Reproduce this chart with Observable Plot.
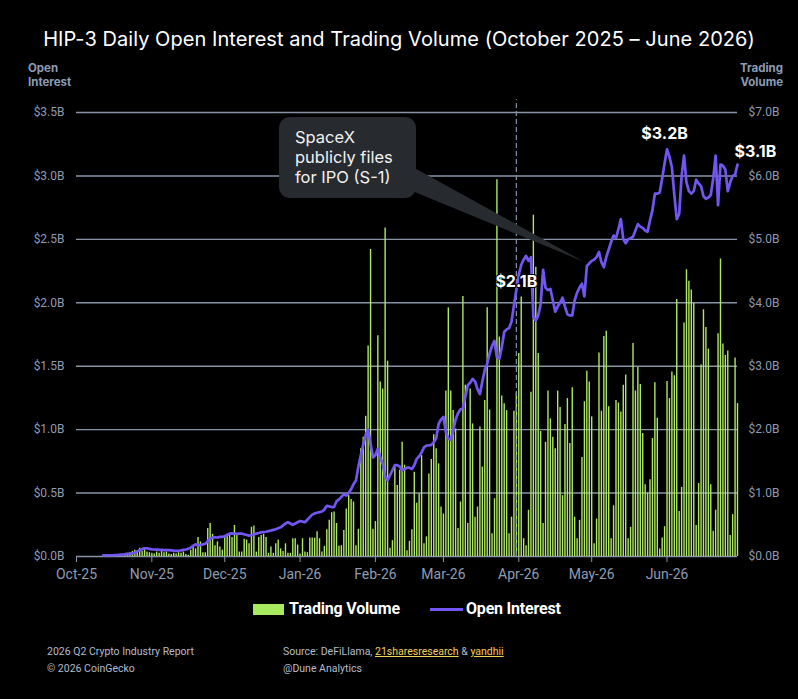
<!DOCTYPE html>
<html><head><meta charset="utf-8">
<script src="https://cdn.jsdelivr.net/npm/d3@7"></script>
<script src="https://cdn.jsdelivr.net/npm/@observablehq/plot@0.6"></script>
<style>
html,body{margin:0;padding:0;background:#000;}
body{width:798px;height:699px;overflow:hidden;position:relative;font-family:Roboto,sans-serif;}
.abs{position:absolute;white-space:nowrap;}
#title{left:0;width:798px;top:25px;text-align:center;color:#fff;font:400 20px Inter,sans-serif;line-height:28px;letter-spacing:0.05px;}
.axt{color:#8d9cb5;font:700 11.5px Inter,sans-serif;line-height:14px;}
#chart{position:absolute;left:0;top:55px;}
#overlay{position:absolute;left:0;top:0;}
#callout{left:279px;top:117px;width:137px;height:81px;border-radius:11px;background:#272a2e;color:#f2f2f2;font:400 16.5px Inter,sans-serif;line-height:20px;box-sizing:border-box;padding:10px 0 0 16px;}
.leg{color:#fff;font:700 16px Roboto,sans-serif;letter-spacing:-0.2px;}
.foot{color:#b4bccb;font:400 10.5px Roboto,sans-serif;}
.lnk{color:#f2d15a;text-decoration:underline;}
</style></head><body>
<div id="title" class="abs">HIP-3 Daily Open Interest and Trading Volume (October 2025 – June 2026)</div>
<div class="abs axt" style="left:28px;top:61px;">Open<br>Interest</div>
<div class="abs axt" style="right:15px;top:61px;text-align:right;">Trading<br>Volume</div>
<div id="chart"></div>
<svg id="overlay" width="798" height="699"></svg>
<div id="callout" class="abs">SpaceX<br>publicly files<br>for IPO (S-1)</div>
<div class="abs" style="left:253px;top:604px;width:31px;height:11px;background:#a8ea5f;"></div>
<div class="abs leg" style="left:289px;top:599px;">Trading Volume</div>
<div class="abs" style="left:430px;top:608px;width:33px;height:3px;background:#7356f2;"></div>
<div class="abs leg" style="left:466px;top:599px;">Open Interest</div>
<div class="abs foot" style="left:47px;top:645px;">2026 Q2 Crypto Industry Report</div>
<div class="abs foot" style="left:47px;top:662px;">© 2026 CoinGecko</div>
<div class="abs foot" style="left:283px;top:645px;">Source: DeFiLlama, <span class="lnk">21sharesresearch</span> &amp; <span class="lnk">yandhii</span></div>
<div class="abs foot" style="left:283px;top:662px;">@Dune Analytics</div>
<script>
// Daily series start date (Oct 12, 2025), values in billions USD
const startDate = "2025-10-12";
const openInterest = [
0.01,0.01,0.01,0.01,0.01,0.012,0.012,0.015,0.015,0.018,
0.02,0.02,0.025,0.03,0.04,0.05,0.058,0.065,0.065,0.06,
0.055,0.055,0.054,0.052,0.052,0.05,0.05,0.05,0.048,0.046,
0.045,0.045,0.048,0.052,0.055,0.06,0.07,0.085,0.095,0.092,
0.09,0.095,0.10,0.12,0.14,0.15,0.152,0.15,0.155,0.155,
0.16,0.17,0.18,0.182,0.18,0.178,0.18,0.18,0.175,0.17,
0.165,0.168,0.175,0.18,0.185,0.19,0.193,0.195,0.20,0.205,
0.21,0.215,0.222,0.23,0.245,0.26,0.27,0.26,0.25,0.26,
0.27,0.28,0.275,0.27,0.29,0.31,0.33,0.34,0.345,0.35,
0.355,0.37,0.40,0.395,0.39,0.39,0.435,0.45,0.47,0.49,
0.48,0.50,0.53,0.57,0.60,0.71,0.80,0.88,0.96,1.00,
0.89,0.78,0.80,0.85,0.78,0.73,0.63,0.60,0.64,0.68,
0.72,0.72,0.71,0.68,0.69,0.70,0.70,0.69,0.72,0.77,
0.79,0.82,0.86,0.875,0.875,0.88,0.90,0.93,1.045,1.08,
1.10,0.98,0.93,0.92,0.99,1.08,1.13,1.16,1.17,1.26,
1.35,1.37,1.40,1.38,1.32,1.28,1.38,1.47,1.52,1.60,
1.66,1.70,1.57,1.56,1.65,1.77,1.79,1.80,1.85,1.98,
2.10,2.22,2.30,2.34,2.37,2.33,2.36,1.89,1.86,1.90,
1.99,2.26,2.12,2.10,2.11,2.02,1.93,1.97,2.00,2.04,
1.97,1.91,1.90,1.90,2.02,2.08,2.12,2.15,2.05,2.29,
2.31,2.33,2.34,2.36,2.40,2.32,2.28,2.36,2.42,2.48,
2.53,2.51,2.58,2.66,2.50,2.47,2.50,2.51,2.52,2.57,
2.62,2.60,2.59,2.57,2.56,2.65,2.73,2.86,2.86,2.87,
2.98,3.10,3.21,3.15,3.07,2.85,2.66,2.70,3.00,3.16,
2.95,2.88,2.86,2.88,2.97,2.94,2.92,2.84,2.82,2.83,
2.85,2.98,3.16,2.77,3.09,3.08,3.05,2.88,2.95,3.00,3.01,3.09];
const tradingVolume = [
0.01,0.01,0.01,0.02,0.01,0.02,0.02,0.03,0.03,0.04,
0.05,0.06,0.08,0.10,0.09,0.13,0.08,0.13,0.07,0.06,
0.05,0.04,0.07,0.05,0.08,0.06,0.07,0.04,0.03,0.05,
0.04,0.06,0.05,0.07,0.03,0.02,0.10,0.17,0.12,0.30,
0.23,0.06,0.06,0.44,0.52,0.35,0.17,0.23,0.15,0.10,
0.30,0.35,0.36,0.30,0.49,0.36,0.07,0.07,0.27,0.26,
0.20,0.46,0.48,0.07,0.30,0.33,0.35,0.30,0.05,0.15,
0.05,0.20,0.26,0.12,0.08,0.20,0.05,0.05,0.28,0.28,
0.18,0.04,0.28,0.07,0.06,0.29,0.29,0.29,0.39,0.28,
0.07,0.16,0.42,0.57,0.69,0.70,0.52,0.16,0.17,0.41,
0.75,0.96,0.90,0.86,0.17,0.43,1.70,1.88,2.21,3.32,
4.84,0.43,0.55,3.48,2.75,2.64,5.18,3.08,0.13,0.25,
1.43,1.12,1.36,1.80,1.44,0.09,0.24,0.42,1.33,0.84,
0.99,1.59,0.20,0.31,1.30,1.53,1.92,1.70,1.46,0.78,
0.67,2.61,3.92,2.61,2.30,2.01,0.44,0.86,4.10,2.70,
0.52,2.64,2.09,0.62,0.78,2.04,1.41,2.46,3.92,2.31,
0.36,0.91,5.94,3.46,2.53,2.41,2.30,0.36,0.62,2.29,
2.58,3.20,4.09,0.28,0.17,0.73,2.59,5.38,4.56,3.20,
1.97,0.52,1.80,2.61,2.17,1.88,1.70,2.61,2.35,0.96,
2.08,2.49,1.78,2.66,0.62,0.28,0.57,1.56,2.44,2.92,
2.75,2.20,0.20,0.59,3.21,2.29,3.47,3.55,2.36,0.28,
0.80,2.46,2.42,2.28,2.70,2.86,0.28,0.46,3.36,2.61,
2.98,2.71,1.94,1.13,1.00,1.21,1.86,2.74,2.18,0.12,
0.29,0.47,2.76,2.49,2.91,2.85,4.05,0.71,1.09,3.68,
4.52,4.34,4.20,3.99,0.49,1.15,3.02,3.89,3.61,3.27,
1.13,0.40,0.73,3.51,4.69,3.35,3.17,3.24,0.33,0.66,3.13,2.41];
const oiTicks = [0,0.5,1.0,1.5,2.0,2.5,3.0,3.5];
const volTickLabels = ["$0.0B","$1.0B","$2.0B","$3.0B","$4.0B","$5.0B","$6.0B","$7.0B"];
const monthTicks = ["2025-10-01","2025-11-01","2025-12-01","2026-01-01","2026-02-01","2026-03-01","2026-04-01","2026-05-01","2026-06-01"];
const xDomain = ["2025-10-01","2026-06-30"];
const eventDate = "2026-03-31";
const eventLabel = {date:"2026-03-31", value:2.10, text:"$2.1B"};
const peakLabel = {date:"2026-05-31", value:3.21, text:"$3.2B"};
const lastLabel = {date:"2026-06-30", value:3.09, text:"$3.1B"};
const calloutTarget = {date:"2026-04-28", value:2.32};

const P = s => new Date(s + "T00:00:00Z");
const t0 = P(startDate).getTime();
const rows = openInterest.map((v,i)=>({date:new Date(t0 + i*864e5), oi:v, vol:tradingVolume[i]}));
const grid = "#8794a8";
const lbl = (o, opts) => Plot.text([o], {x:d=>P(d.date), y:"value", text:"text", fill:"#fff", stroke:"#000", strokeWidth:2, fontSize:16, fontWeight:700, fontFamily:"Inter, sans-serif", ...opts});

const plot = Plot.plot({
  width:798, height:540,
  marginLeft:76, marginRight:61, marginTop:57, marginBottom:39,
  style:{background:"transparent", color:"#8d9cb3", fontFamily:"Roboto, sans-serif", overflow:"visible"},
  x:{type:"utc", domain:xDomain.map(P)},
  y:{domain:[0,3.5]},
  marks:[
    Plot.gridY(oiTicks, {stroke:grid, strokeOpacity:1, strokeWidth:1.4}),
    Plot.ruleX(rows, {x:"date", y1:0, y2:d=>d.vol/2, stroke:"#aee864", strokeWidth:1.4}),
    Plot.ruleX([P(eventDate)], {y1:0, y2:3.6, stroke:grid, strokeWidth:1.2, strokeDasharray:"5,3"}),
    Plot.line(rows, {x:"date", y:"oi", stroke:"#7356f2", strokeWidth:2.7, strokeLinejoin:"round"}),
    Plot.axisY(oiTicks, {anchor:"left", tickSize:0, tickPadding:12, fontSize:12, label:null, tickFormat:d=>"$"+d.toFixed(1)+"B"}),
    Plot.axisY(oiTicks, {anchor:"right", tickSize:0, tickPadding:11, fontSize:12, label:null, tickFormat:(d,i)=>volTickLabels[i]}),
    Plot.axisX(monthTicks.map(P), {tickSize:6, tickPadding:7, fontSize:14, label:null, stroke:grid, tickFormat:d3.utcFormat("%b-%y")}),
    lbl(eventLabel, {dy:-8}),
    lbl(peakLabel, {dy:-15}),
    lbl(lastLabel, {dy:-13, dx:-3, textAnchor:"start"})
  ]
});
document.getElementById("chart").appendChild(plot);

// callout tail pointing at target (computed through the plot's scales)
const sx = plot.scale("x"), sy = plot.scale("y");
const tx = sx.apply(P(calloutTarget.date)), ty = 55 + sy.apply(calloutTarget.value);
const ov = d3.select("#overlay");
ov.append("polygon")
  .attr("points", `400,160 ${tx},${ty} 400,186`)
  .attr("fill", "#272a2e");
</script>
</body></html>
